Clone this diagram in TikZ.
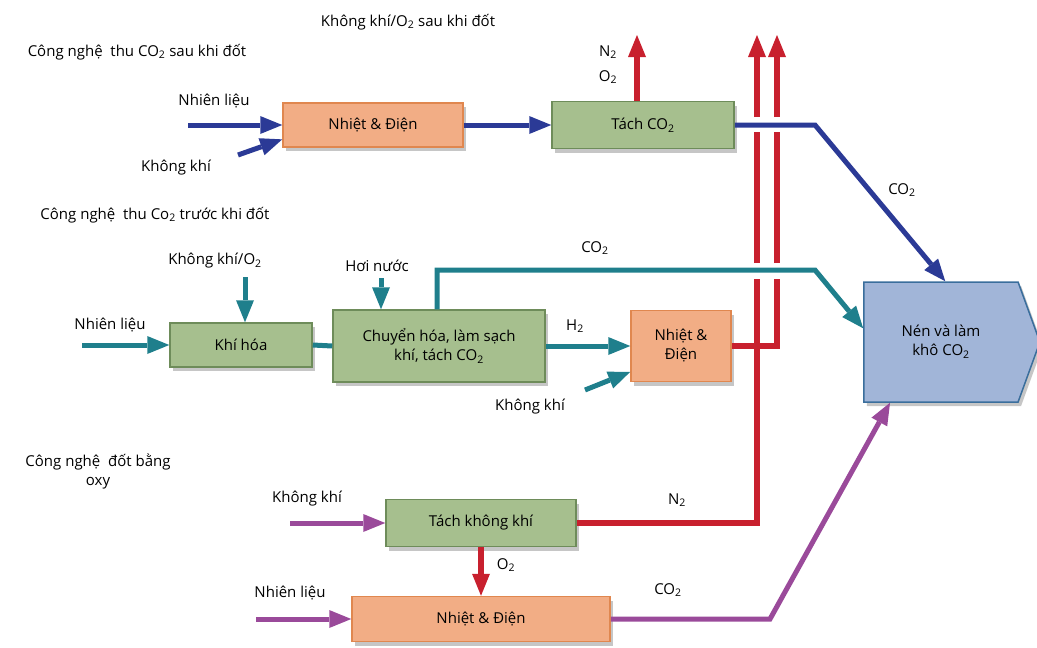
\documentclass[tikz,border=0pt]{standalone}
\usepackage{fontspec}
\setmainfont{Open Sans}
\usepackage{xcolor}
\definecolor{blu}{HTML}{2B3A96}
\definecolor{tea}{HTML}{1F7F8C}
\definecolor{pur}{HTML}{9A4A9A}
\definecolor{rd}{HTML}{C8202E}
\definecolor{grn}{HTML}{A6BF8E}
\definecolor{grnd}{HTML}{6E8C5A}
\definecolor{org}{HTML}{F2AD85}
\definecolor{orgd}{HTML}{E0874F}
\definecolor{nen}{HTML}{A1B5D8}
\definecolor{nend}{HTML}{3A6E9C}
\usepackage{tikz}
\usetikzlibrary{arrows.meta,shadows,shapes.symbols}
\newcommand{\lo}[1]{\textsubscript{#1}}
\tikzset{
  >={Triangle[length=22pt,width=18pt,line width=0pt]},
  box/.style={draw,line width=1.5pt,inner sep=2pt,font=\fontsize{15}{19}\selectfont,align=center,drop shadow={opacity=0.45,shadow xshift=3pt,shadow yshift=-4pt}},
  gbox/.style={box,draw=grnd,fill=grn},
  obox/.style={box,draw=orgd,fill=org},
  lab/.style={font=\fontsize{15}{19}\selectfont,align=center,inner sep=1pt},
  bl/.style={draw=blu,line width=5pt},
  tl/.style={draw=tea,line width=5pt},
  pl/.style={draw=pur,line width=5pt},
  rl/.style={draw=rd,line width=6pt},
}

\begin{document}
\begin{tikzpicture}[x=1pt,y=-1pt]
\useasboundingbox (0,0) rectangle (1037,648);
% Section titles
\node[lab] (ttl1) at (137,52) {Công nghệ~ thu CO\lo{2} sau khi đốt};
\node[lab] (ttl2) at (155,215) {Công nghệ~ thu Co\lo{2} trước khi đốt};
\node[lab] (ttl3) at (98,471) {Công nghệ~ đốt bằng\\oxy};
\node[lab] (ttl0) at (408,22) {Không khí/O\lo{2} sau khi đốt};
% Compressor
\node[box,draw=nend,fill=nen,shape=signal,signal to=east,signal pointer angle=140,
  minimum width=176pt,minimum height=120pt] (nen) at (941,342) {Nén và làm\\khô CO\lo{2}};
% Post-combustion row
\node[obox,minimum width=180pt,minimum height=44pt] (heat1) at (373,125) {Nhiệt \& Điện};
\node[gbox,minimum width=182pt,minimum height=47pt] (sep) at (643,125) {Tách CO\lo{2}};
\node[lab] (fuel1l) at (214,101) {Nhiên liệu};
\node[lab] (air1l) at (176,168) {Không khí};
\node[lab] (n2l) at (608,52) {N\lo{2}};
\node[lab] (o2l) at (608,77) {O\lo{2}};
\node[lab] (co2a) at (902,190) {CO\lo{2}};
\coordinate (fuel1) at (188,125);
\coordinate (air1) at (238,155);
\coordinate (b1) at (815,125);
\coordinate (n2top) at (637,35);
\draw[bl,->] (fuel1) -- (heat1.west);
\draw[bl,->] (air1) -- (heat1.189);
\draw[bl,->] (heat1.east) -- (sep.west);
\draw[bl,->] (sep.east) -- (b1) -- (nen.86);
% Pre-combustion row
\node[gbox,minimum width=142pt,minimum height=44pt] (gas) at (241,345) {Khí hóa};
\node[gbox,minimum width=212pt,minimum height=72pt] (conv) at (439,346) {Chuyển hóa, làm sạch\\khí, tách CO\lo{2}};
\node[obox,minimum width=100pt,minimum height=71pt] (heat2) at (681,346) {Nhiệt \&\\Điện};
\node[lab] (o2inl) at (215,261) {Không khí/O\lo{2}};
\node[lab] (steaml) at (377,266) {Hơi nước};
\node[lab] (fuel2l) at (110,325) {Nhiên liệu};
\node[lab] (co2b) at (595,248) {CO\lo{2}};
\node[lab] (h2l) at (575,326) {H\lo{2}};
\node[lab] (air2l) at (530,407) {Không khí};
\coordinate (fuel2) at (82,345);
\coordinate (o2in) at (245,277);
\coordinate (steam) at (381,278);
\coordinate (t1) at (437,270);
\coordinate (t2) at (815,270);
\coordinate (air2) at (585,390);
\draw[tl,->] (fuel2) -- (gas.west);
\draw[tl,->] (o2in) -- (gas.north -| o2in);
\draw[tl] (gas.east) -- (conv.west);
\draw[tl,->] (steam) -- (conv.north -| steam);
\draw[tl,->] (conv.north -| t1) -- (t1) -- (t2) -- (nen.170);
\draw[tl,->] (conv.east) -- (heat2.west);
\draw[tl,->] (air2) -- (heat2.207);
% Oxy-fuel row
\node[gbox,minimum width=190pt,minimum height=47pt] (asep) at (481,523) {Tách không khí};
\node[obox,minimum width=258pt,minimum height=45pt] (heat3) at (481,619) {Nhiệt \& Điện};
\node[lab] (air3l) at (307,499) {Không khí};
\node[lab] (fuel3l) at (290,593) {Nhiên liệu};
\node[lab] (n2b) at (677,500) {N\lo{2}};
\node[lab] (o2b) at (506,565) {O\lo{2}};
\node[lab] (co2c) at (668,590) {CO\lo{2}};
\coordinate (air3) at (290,523);
\coordinate (fuel3) at (256,619);
\coordinate (p1) at (770,619);
\draw[pl,->] (air3) -- (asep.west);
\draw[pl,->] (fuel3) -- (heat3.west);
\draw[pl,->] (heat3.east) -- (p1) -- (nen.230);
% Red exhaust lines
\coordinate (vA) at (757,279);
\coordinate (vB) at (777,279);
\draw[rl,->] (sep.north -| n2top) -- (n2top);
\draw[rl,->] (asep.south) -- (heat3.north);
\draw[rl] (asep.east) -| (vA);
\draw[rl] (heat2.east) -| (vB);
\foreach \x in {757,777} {
  \draw[rl] (\x,263) -- (\x,132);
  \draw[rl,->] (\x,117) -- (\x,35);
}
\end{tikzpicture}
\end{document}
